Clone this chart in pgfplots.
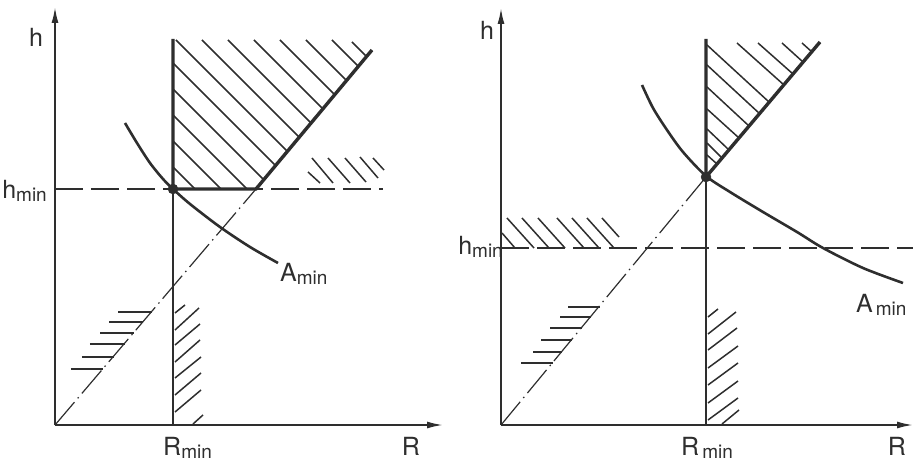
\documentclass[border=0pt]{standalone}
\usepackage{pgfplots}
\pgfplotsset{compat=1.18}
\usepackage{fontspec}
\setmainfont{TeX Gyre Heros}
\usetikzlibrary{arrows.meta}
\definecolor{ink}{gray}{0.18}
% letter with lowered subscript, as in the scanned figure
\newcommand{\lab}[3][0pt]{{\fontsize{25}{28}\selectfont #2}\kern#1\raisebox{-3pt}{\fontsize{19}{21}\selectfont #3}}
\tikzset{lbl/.style={text=ink, inner sep=0pt}}
\pgfplotsset{
  panel/.style={
    x=1pt, y=1pt, xmin=0, ymin=0,
    axis lines=left, ticks=none, clip=false, anchor=south west,
    axis line style={ink, line width=1.8pt, -{Latex[length=16pt,width=7pt]}},
    every axis plot/.append style={mark=none, draw=ink},
    unbounded coords=jump,
  },
  thin/.style={line width=1.5pt},
  thick/.style={line width=3.4pt},
  hatch/.style={line width=1.5pt},
  hdash/.style={line width=1.3pt, dash pattern=on 28pt off 8pt},
  dashdot/.style={line width=1.2pt, dash pattern=on 30pt off 5pt on 1.5pt off 5pt},
  curve/.style={line width=2.6pt, smooth, tension=0.5},
}
\begin{document}
\begin{tikzpicture}
\useasboundingbox (0,0) rectangle (918pt,463pt);

% ---------------- left panel ----------------
\begin{axis}[panel, at={(55pt,38pt)}, xmax=388, ymax=418]
\addplot[hdash] coordinates {(0,236) (328,236)};
\addplot[dashdot] coordinates {(0,0) (201,236)};
\addplot[thin] coordinates {(118,0) (118,236)};
\addplot[thick] coordinates {(118,386) (118,236) (201,236) (317,375)};
% hatching of the feasible region
\addplot[hatch] coordinates {
  (118,258) (140,236) (nan,nan) (118,284) (166,236) (nan,nan)
  (118,310) (192,236) (nan,nan) (118,336) (208,246) (nan,nan)
  (118,362) (220,260) (nan,nan) (121,385) (232,274) (nan,nan)
  (147,385) (244,288) (nan,nan) (173,385) (256,302) (nan,nan)
  (199,385) (268,316) (nan,nan) (225,385) (280,330) (nan,nan)
  (251,385) (292,344) (nan,nan) (277,385) (304,358) (nan,nan)
  (297,383) (312,368)
};
\addplot[hatch] coordinates {
  (253,253) (265,242) (nan,nan) (257,267) (278,242) (nan,nan)
  (273,267) (295,242) (nan,nan) (290,267) (311,243) (nan,nan)
  (305,268) (323,247) (nan,nan) (318,267) (329,255)
};
\addplot[hatch] coordinates {
  (63,113) (97,113) (nan,nan) (54,103) (88,103) (nan,nan)
  (45,92) (79,92) (nan,nan) (35,81) (70,81) (nan,nan)
  (27,68) (59,68) (nan,nan) (16,56) (48,56)
};
\addplot[hatch] coordinates {
  (120,112) (130,120) (nan,nan) (120,95) (144,117) (nan,nan)
  (120,80) (145,101) (nan,nan) (120,63) (145,85) (nan,nan)
  (120,47) (146,68) (nan,nan) (120,30) (146,52) (nan,nan)
  (120,13) (146,35) (nan,nan) (138,1) (148,10)
};
\addplot[curve] coordinates {(70,302) (82,282) (95,262) (108,246) (118,236) (135,221) (165,198) (195,178) (223,162)};
\addplot[only marks, mark=*, mark size=5pt, fill=ink, draw=ink] coordinates {(118,236)};
\node[lbl, anchor=base] at (axis cs:-19,378) {\fontsize{25}{28}\selectfont h};
\node[lbl, anchor=base east] at (axis cs:-8,226) {\lab{h}{min}};
\node[lbl, anchor=base west] at (axis cs:108,-30) {\lab{R}{min}};
\node[lbl, anchor=base] at (axis cs:356,-30) {\fontsize{25}{28}\selectfont R};
\node[lbl, anchor=base west] at (axis cs:225,143) {\lab{A}{min}};
\end{axis}

% ---------------- right panel ----------------
\begin{axis}[panel, at={(501pt,38pt)}, xmax=412, ymax=417]
\addplot[hdash] coordinates {(0,177) (412,177)};
\addplot[dashdot] coordinates {(0,0) (205,248)};
\addplot[thin] coordinates {(205,0) (205,248)};
\addplot[thick] coordinates {(205,386) (205,248) (319,383)};
\addplot[hatch] coordinates {
  (206,380) (268,323) (nan,nan) (206,360) (259,311) (nan,nan)
  (206,338) (248,299) (nan,nan) (206,316) (238,287) (nan,nan)
  (206,296) (228,275) (nan,nan) (206,282) (221,267) (nan,nan)
  (206,270) (216,261) (nan,nan) (236,382) (283,340) (nan,nan)
  (257,382) (292,351) (nan,nan) (281,382) (302,363) (nan,nan)
  (301,382) (311,373)
};
\addplot[hatch] coordinates {
  (1,192) (14,177) (nan,nan) (6,207) (33,177) (nan,nan)
  (21,207) (48,177) (nan,nan) (37,207) (64,177) (nan,nan)
  (56,207) (83,177) (nan,nan) (71,207) (98,177) (nan,nan)
  (86,207) (113,177) (nan,nan) (101,207) (118,188)
};
\addplot[hatch] coordinates {
  (67,118) (99,118) (nan,nan) (59,108) (90,108) (nan,nan)
  (49,97) (81,97) (nan,nan) (40,85) (71,85) (nan,nan)
  (32,73) (61,73) (nan,nan) (20,62) (52,62)
};
\addplot[hatch] coordinates {
  (207,108) (217,116) (nan,nan) (207,91) (235,113) (nan,nan)
  (207,75) (236,97) (nan,nan) (207,57) (237,79) (nan,nan)
  (207,40) (237,62) (nan,nan) (207,22) (237,44) (nan,nan)
  (207,5) (237,27) (nan,nan) (221,1) (238,15)
};
\addplot[curve] coordinates {(141,340) (152,317) (166,295) (182,273) (205,249) (229,233) (262,213) (296,193) (322,177) (362,157) (402,142)};
\addplot[only marks, mark=*, mark size=5pt, fill=ink, draw=ink] coordinates {(205,248)};
\node[lbl, anchor=base] at (axis cs:-14,385) {\fontsize{25}{28}\selectfont h};
\node[lbl, anchor=base east] at (axis cs:2,170) {\lab{h}{min}};
\node[lbl, anchor=base west] at (axis cs:180,-30) {\lab[3pt]{R}{min}};
\node[lbl, anchor=base] at (axis cs:396,-30) {\fontsize{25}{28}\selectfont R};
\node[lbl, anchor=base west] at (axis cs:355,112) {\lab[3pt]{A}{min}};
\end{axis}
\end{tikzpicture}
\end{document}
